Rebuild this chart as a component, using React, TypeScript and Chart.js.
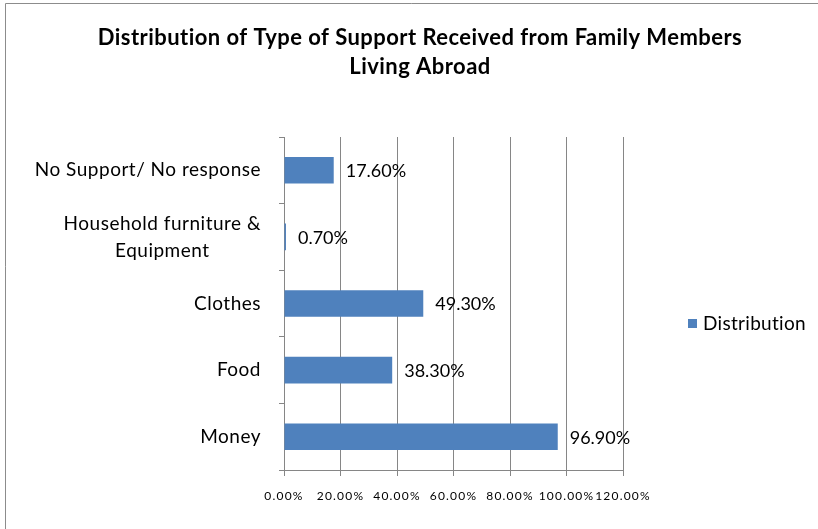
import React, { useEffect, useRef } from "react";
import { Chart, registerables } from "chart.js";

Chart.register(...registerables);

const titleLines = ["Distribution of Type of Support Received from Family Members", "Living Abroad"];
const categories: (string | string[])[] = [
  "No Support/ No response",
  ["Household furniture &", "Equipment"],
  "Clothes",
  "Food",
  "Money",
];
const seriesName = "Distribution";
const distribution = [17.6, 0.7, 49.3, 38.3, 96.9];
const xMin = 0;
const xMax = 120;
const xStep = 20;

const BAR = "#4F81BD";
const GRID = "#868686";
const FONT = "Lato, 'Open Sans', sans-serif";

const fmt = (v: number) => v.toFixed(2) + "%";

const drawPlugin = {
  id: "customDraw",
  beforeDraw(chart: any) {
    const ctx = chart.ctx;
    ctx.save();
    ctx.fillStyle = "#ffffff";
    ctx.fillRect(0, 0, chart.width, chart.height);
    ctx.strokeStyle = "#8c8c8c";
    ctx.lineWidth = 1;
    ctx.beginPath();
    ctx.moveTo(5.5, chart.height);
    ctx.lineTo(5.5, 3.5);
    ctx.lineTo(chart.width, 3.5);
    ctx.stroke();
    ctx.restore();
    // spacing used by the x tick labels drawn by the scale
    ctx.letterSpacing = "1.2px";
  },
  afterDraw(chart: any) {
    const ctx = chart.ctx;
    ctx.save();
    // title
    ctx.fillStyle = "#000000";
    ctx.font = `bold 22px ${FONT}`;
    ctx.letterSpacing = "0.45px";
    ctx.textAlign = "center";
    ctx.textBaseline = "middle";
    ctx.fillText(titleLines[0], 420, 38);
    ctx.fillText(titleLines[1], 420, 67);

    // y labels
    const yScale = chart.scales.y;
    ctx.font = `19px ${FONT}`;
    ctx.letterSpacing = "0.5px";
    const rightEdge = 261;
    categories.forEach((lab, i) => {
      const y = yScale.getPixelForValue(i);
      if (Array.isArray(lab)) {
        const w = Math.max(...lab.map((l) => ctx.measureText(l).width));
        const cx = rightEdge - w / 2;
        ctx.textAlign = "center";
        const lh = 27;
        lab.forEach((l, k) => {
          ctx.fillText(l, cx, y + (k - (lab.length - 1) / 2) * lh);
        });
      } else {
        ctx.textAlign = "right";
        ctx.fillText(lab, rightEdge, y);
      }
    });

    // data labels
    const meta = chart.getDatasetMeta(0);
    ctx.font = `18px ${FONT}`;
    ctx.letterSpacing = "0px";
    ctx.textAlign = "left";
    meta.data.forEach((el: any, i: number) => {
      ctx.fillText(fmt(distribution[i]), el.x + 12, el.y + 1);
    });

    // legend
    ctx.fillStyle = BAR;
    ctx.fillRect(688, 319, 9, 9);
    ctx.fillStyle = "#000000";
    ctx.font = `19px ${FONT}`;
    ctx.letterSpacing = "0.3px";
    ctx.textAlign = "left";
    ctx.fillText(seriesName, 703, 324);
    ctx.restore();
    ctx.letterSpacing = "0px";
  },
};

export default function App() {
  const ref = useRef<HTMLCanvasElement>(null);
  useEffect(() => {
    if (!ref.current) return;
    const chart = new Chart(ref.current, {
      type: "bar",
      data: {
        labels: categories as any,
        datasets: [
          {
            label: seriesName,
            data: distribution,
            backgroundColor: BAR,
            borderWidth: 0,
            barPercentage: 0.5,
            categoryPercentage: 0.8,
          },
        ],
      },
      options: {
        indexAxis: "y",
        responsive: false,
        animation: false,
        layout: { padding: { left: 279, top: 137, right: 195, bottom: 0 } },
        plugins: {
          legend: { display: false },
          title: { display: false },
          tooltip: { enabled: false },
        },
        scales: {
          x: {
            min: xMin,
            max: xMax,
            ticks: {
              stepSize: xStep,
              callback: (v: any) => fmt(Number(v)),
              font: { family: FONT, size: 12 },
              color: "#000000",
              padding: 13,
              maxRotation: 0,
              autoSkip: false,
            },
            grid: { color: GRID, tickLength: 6, drawTicks: true },
            border: { display: true, color: GRID },
            afterFit: (s: any) => {
              s.height = 59;
            },
          },
          y: {
            ticks: { display: false },
            grid: { drawOnChartArea: false, tickLength: 5, color: GRID, offset: true },
            border: { display: true, color: GRID },
            afterFit: (s: any) => {
              s.width = 5;
            },
          },
        },
      },
      plugins: [drawPlugin],
    });
    return () => chart.destroy();
  }, []);
  return (
    <div style={{ position: "absolute", left: 0, top: 0, width: 818, height: 529 }}>
      <canvas ref={ref} width={818} height={529} style={{ display: "block" }} />
    </div>
  );
}
